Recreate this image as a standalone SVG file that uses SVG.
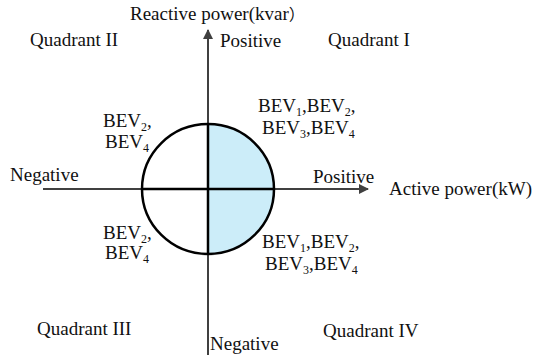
<svg xmlns="http://www.w3.org/2000/svg" width="536" height="355" viewBox="0 0 536 355">
<style>
text{font-family:"Liberation Serif","Times New Roman",serif;font-size:19px;fill:#111}
.sub{font-size:12px}
.axis{stroke:#404040;stroke-width:2;fill:none}
</style>
<defs>
<marker id="ah" viewBox="0 0 10 10" refX="9" refY="5" markerWidth="10" markerHeight="10" markerUnits="userSpaceOnUse" orient="auto">
<path d="M0,0 L10,5 L0,10 Z" fill="#404040"/>
</marker>
</defs>
<rect width="536" height="355" fill="#fff"/>
<g id="circle">
<path d="M208,124 A66,65 0 0 1 208,254 Z" fill="#ccedf9"/>
</g>
<g id="connectors">
<line class="axis" x1="208" y1="355" x2="208" y2="30" marker-end="url(#ah)"/>
<line class="axis" x1="43" y1="189" x2="368" y2="189" marker-end="url(#ah)"/>
<line x1="208" y1="124" x2="208" y2="254" stroke="#000" stroke-width="2.5"/>
<line x1="142" y1="189" x2="274" y2="189" stroke="#000" stroke-width="2.5"/>
</g>
<g id="circle-outline">
<ellipse cx="208" cy="189" rx="66" ry="65" fill="none" stroke="#000" stroke-width="2.5"/>
</g>
<g id="axis-labels">
<text x="130" y="20">Reactive power(kvar<tspan font-family="'Noto Sans CJK SC',sans-serif" font-size="16">）</tspan></text>
<text x="220" y="47">Positive</text>
<text x="210" y="350">Negative</text>
<text x="10" y="181">Negative</text>
<text x="313" y="183">Positive</text>
<text x="389" y="195">Active power(kW)</text>
</g>
<g id="quadrants">
<text x="30" y="46">Quadrant II</text>
<text x="328" y="46">Quadrant I</text>
<text x="37" y="335">Quadrant III</text>
<text x="323" y="337">Quadrant IV</text>
</g>
<g id="q1-label">
<text x="258" y="112">BEV<tspan class="sub" dy="4">1</tspan><tspan dy="-4">,BEV</tspan><tspan class="sub" dy="4">2</tspan><tspan dy="-4">,</tspan></text>
<text x="262" y="134">BEV<tspan class="sub" dy="4">3</tspan><tspan dy="-4">,BEV</tspan><tspan class="sub" dy="4">4</tspan></text>
</g>
<g id="q2-label">
<text x="103" y="127">BEV<tspan class="sub" dy="4">2</tspan><tspan dy="-4">,</tspan></text>
<text x="105" y="148">BEV<tspan class="sub" dy="4">4</tspan></text>
</g>
<g id="q3-label">
<text x="103" y="239">BEV<tspan class="sub" dy="4">2</tspan><tspan dy="-4">,</tspan></text>
<text x="105" y="259">BEV<tspan class="sub" dy="4">4</tspan></text>
</g>
<g id="q4-label">
<text x="262" y="248">BEV<tspan class="sub" dy="4">1</tspan><tspan dy="-4">,BEV</tspan><tspan class="sub" dy="4">2</tspan><tspan dy="-4">,</tspan></text>
<text x="265" y="270">BEV<tspan class="sub" dy="4">3</tspan><tspan dy="-4">,BEV</tspan><tspan class="sub" dy="4">4</tspan></text>
</g>
</svg>
